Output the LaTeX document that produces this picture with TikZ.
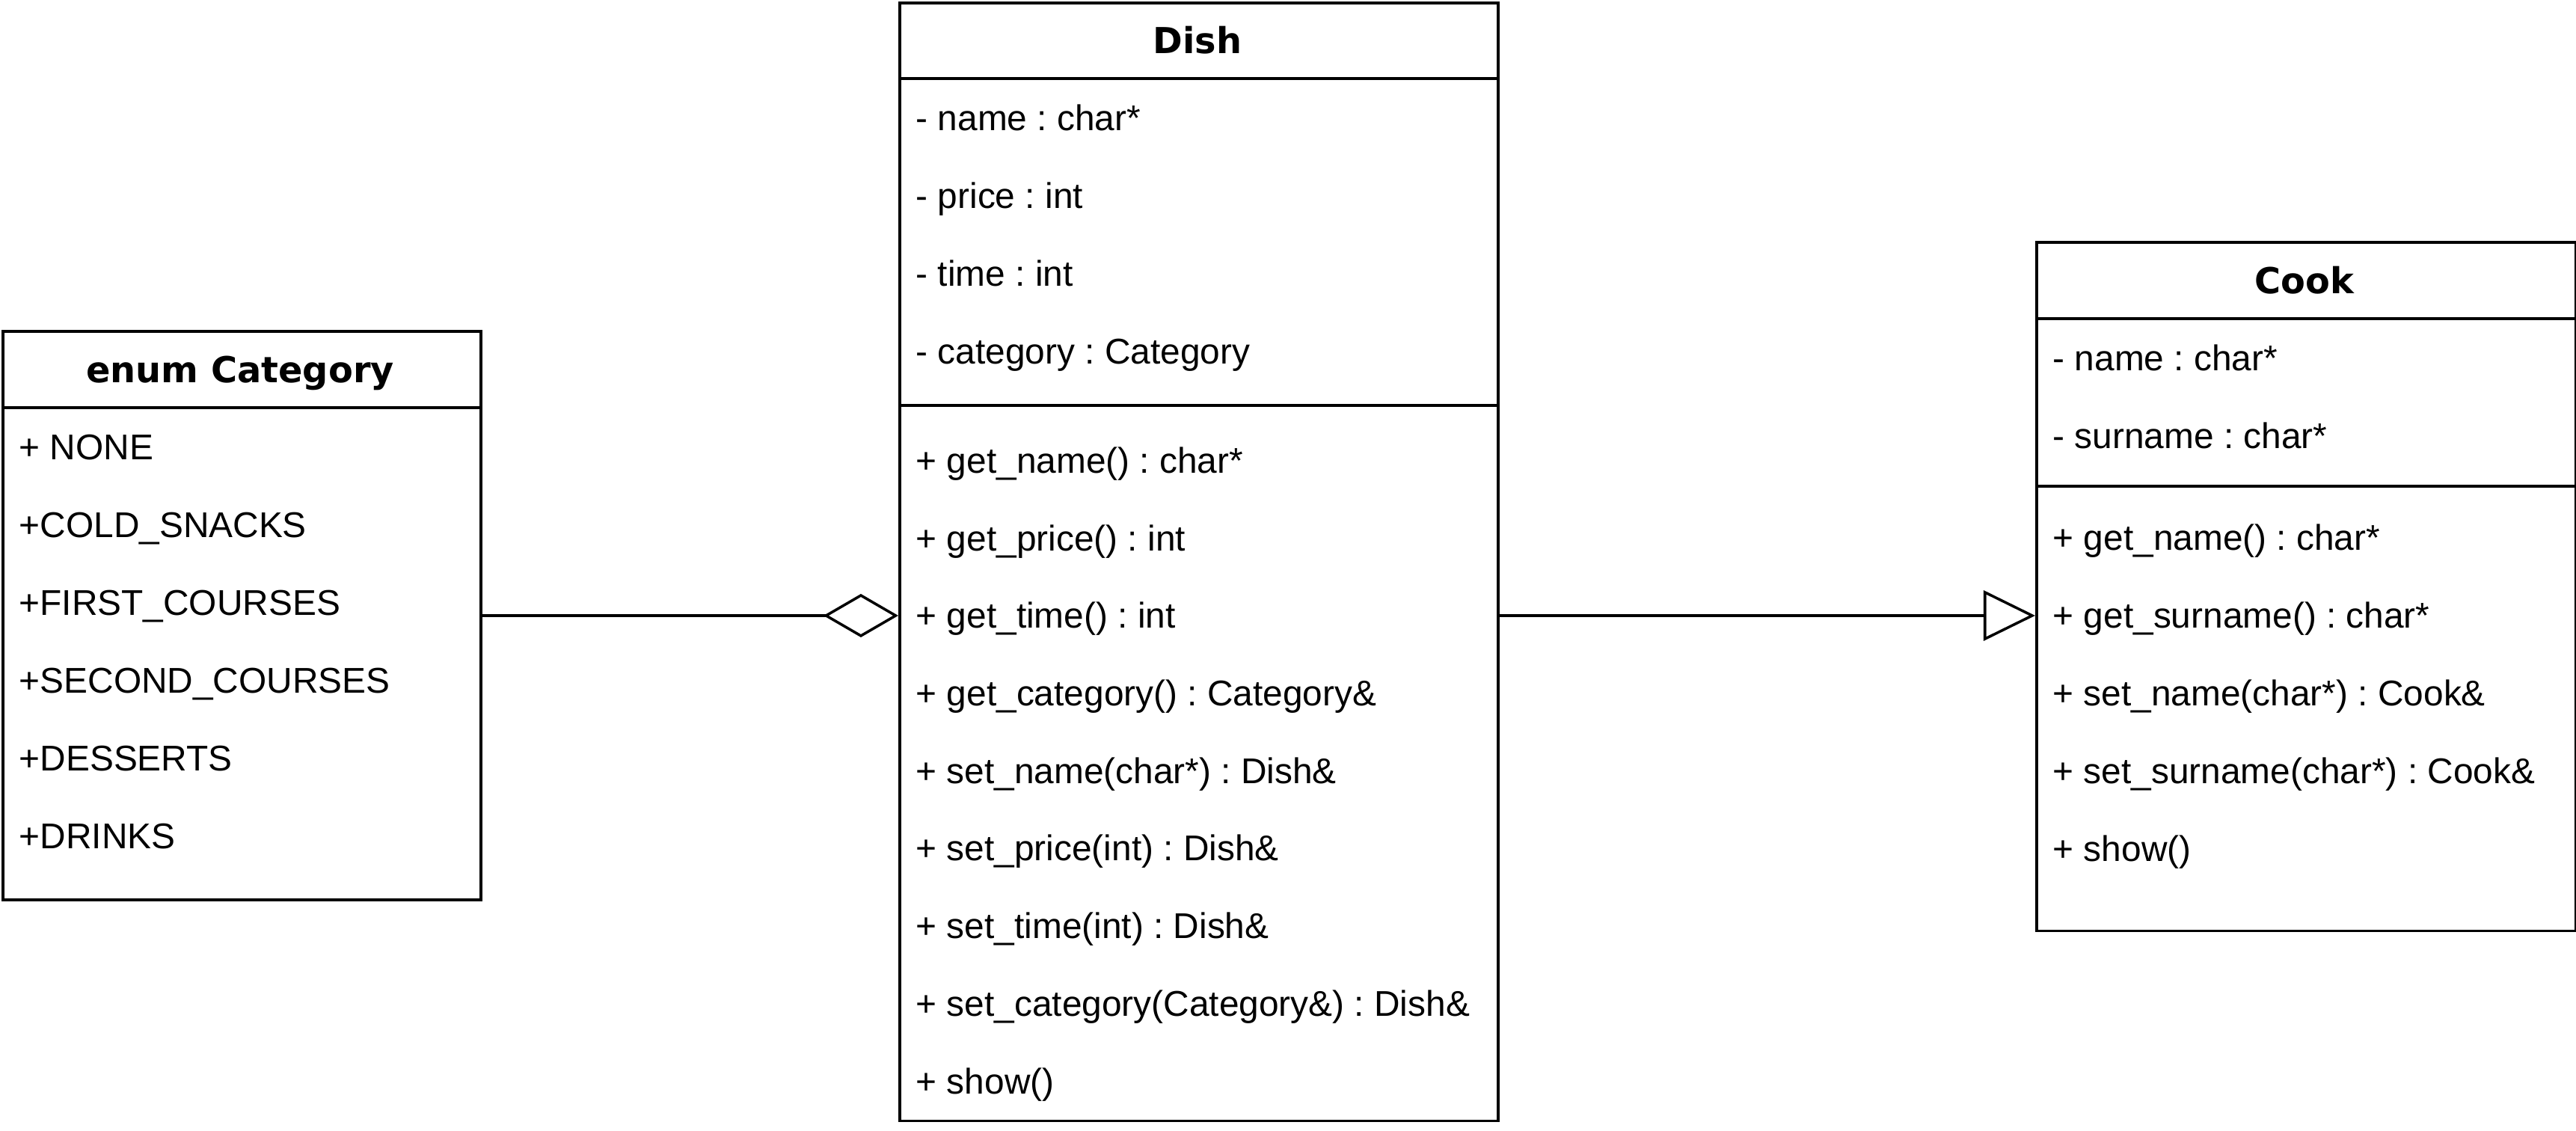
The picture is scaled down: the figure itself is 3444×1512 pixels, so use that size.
\documentclass[tikz,border=0pt]{standalone}
\usepackage{fontspec}
\setmainfont{Liberation Sans}
\newfontfamily\headfont{DejaVu Sans}
\usetikzlibrary{arrows.meta}
\frenchspacing

\begin{document}
\begin{tikzpicture}[x=0.01cm, y=-0.01cm, line width=1pt,
  classbox/.style={draw, anchor=north west, inner sep=0pt},
  classname/.style={anchor=base, inner sep=0pt, font=\headfont\bfseries\fontsize{13.6}{16}\selectfont},
  member/.style={anchor=base west, inner sep=0pt, font=\fontsize{13.6}{16}\selectfont},
  aggregation/.style={-{Diamond[open, length=1cm, width=0.58cm]}},
  inherit/.style={-{Triangle[open, length=0.69cm, width=0.67cm]}}]

\useasboundingbox (0,0) rectangle (3444,1512);

% ENUM CATEGORY
\node[classbox, minimum width=6.39cm, minimum height=7.60cm] (category) at (2,441) {};
\draw (2,545) -- (641,545);
\node[classname] (categoryname) at (321,511) {enum Category};
\node[member] (cat1) at (24,614) {+ NONE};
\node[member] (cat2) at (24,718) {+COLD\_SNACKS};
\node[member] (cat3) at (24,822) {+FIRST\_COURSES};
\node[member] (cat4) at (24,926) {+SECOND\_COURSES};
\node[member] (cat5) at (24,1030) {+DESSERTS};
\node[member] (cat6) at (24,1134) {+DRINKS};

% DISH
\node[classbox, minimum width=8.00cm, minimum height=14.94cm] (dish) at (1201,2) {};
\draw (1201,105) -- (2001,105);
\draw (1201,542) -- (2001,542);
\node[classname] (dishname) at (1601,71) {Dish};
\node[member] (dishA1) at (1223,174) {- name : char*};
\node[member] (dishA2) at (1223,278) {- price : int};
\node[member] (dishA3) at (1223,382) {- time : int};
\node[member] (dishA4) at (1223,486) {- category : Category};
\node[member] (dishM1) at (1223,632) {+ get\_name() : char*};
\node[member] (dishM2) at (1223,736) {+ get\_price() : int};
\node[member] (dishM3) at (1223,839) {+ get\_time() : int};
\node[member] (dishM4) at (1223,943) {+ get\_category() : Category\&};
\node[member] (dishM5) at (1223,1047) {+ set\_name(char*) : Dish\&};
\node[member] (dishM6) at (1223,1150) {+ set\_price(int) : Dish\&};
\node[member] (dishM7) at (1223,1254) {+ set\_time(int) : Dish\&};
\node[member] (dishM8) at (1223,1358) {+ set\_category(Category\&) : Dish\&};
\node[member] (dishM9) at (1223,1462) {+ show()};

% COOK
\node[classbox, minimum width=7.21cm, minimum height=9.20cm] (cook) at (2721,322) {};
\draw (2721,426) -- (3442,426);
\draw (2721,650) -- (3442,650);
\node[classname] (cookname) at (3081,392) {Cook};
\node[member] (cookA1) at (2743,495) {- name : char*};
\node[member] (cookA2) at (2743,599) {- surname : char*};
\node[member] (cookM1) at (2743,735) {+ get\_name() : char*};
\node[member] (cookM2) at (2743,839) {+ get\_surname() : char*};
\node[member] (cookM3) at (2743,943) {+ set\_name(char*) : Cook\&};
\node[member] (cookM4) at (2743,1047) {+ set\_surname(char*) : Cook\&};
\node[member] (cookM5) at (2743,1151) {+ show()};

% Relations
\draw[aggregation] (category.east) -- (category.east -| dish.west);
\draw[inherit] (dish.east |- category.east) -- (cook.west |- category.east);

\end{tikzpicture}
\end{document}
